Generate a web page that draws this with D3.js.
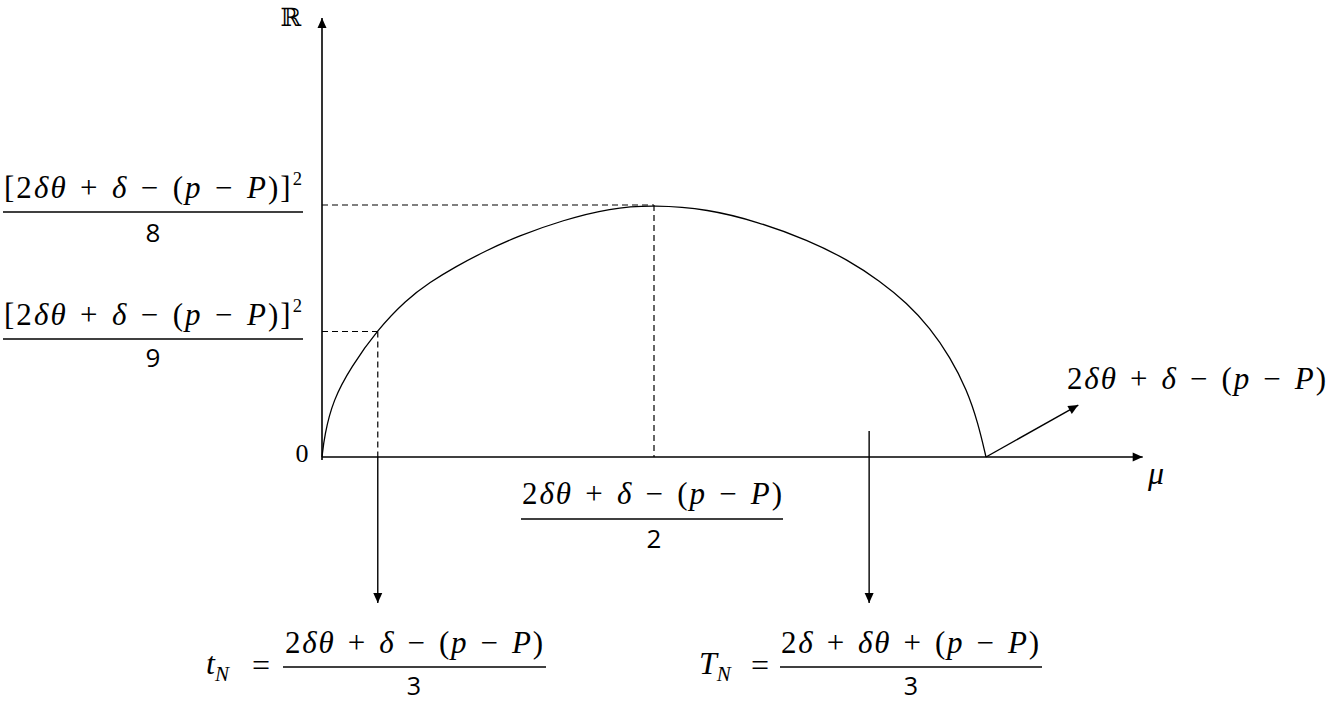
<!DOCTYPE html>
<html>
<head>
<meta charset="utf-8">
<script src="https://cdn.jsdelivr.net/npm/d3@7/dist/d3.min.js"></script>
<style>
html,body{margin:0;padding:0;background:#fff;}
svg{display:block;}
</style>
</head>
<body>
<svg id="chart" width="1328" height="702"></svg>
<script>
// ---- data (schematic units: mu of curve end = 1, peak R = 1) ----
const curveMu = [0, 0.0038, 0.0166, 0.0437, 0.0833, 0.1265, 0.1627, 0.2003, 0.2455, 0.2952, 0.3630, 0.4337, 0.5,
                 0.5813, 0.6566, 0.7319, 0.7922, 0.8404, 0.8810, 0.9157, 0.9458, 0.9714, 0.9880, 1.0];
const curveR  = [0, 0.087, 0.226, 0.357, 0.504, 0.623, 0.694, 0.754, 0.817, 0.877, 0.940, 0.988, 1.0,
                 0.984, 0.933, 0.861, 0.782, 0.698, 0.611, 0.512, 0.397, 0.266, 0.135, 0];
const guideMu = [0.084, 0.5];        // t_N position, peak position
const guideR  = [0.498, 1.0];        // R at t_N, R at peak
const markTN  = 0.824;               // T_N position on mu axis
const axisMaxMu = 1.236;
const axisMaxR  = 1.742;
const numer = "2δθ + δ − (p − P)";
const numerTN = "2δ + δθ + (p − P)";
const yLabelDenoms = ["8", "9"];
const xLabelDenom = "2";
const arrowDenoms = ["3", "3"];

// ---- scales ----
const x = d3.scaleLinear().domain([0, 1]).range([322, 986]);
const y = d3.scaleLinear().domain([0, 1]).range([457, 205]);

const svg = d3.select("#chart");
const defs = svg.append("defs");
defs.append("marker").attr("id", "arr").attr("viewBox", "0 -5 10 10")
  .attr("refX", 10).attr("refY", 0).attr("markerWidth", 11).attr("markerHeight", 10)
  .attr("markerUnits", "userSpaceOnUse").attr("orient", "auto")
  .append("path").attr("d", "M0,-4.5L10,0L0,4.5Z").attr("fill", "#000");

const serif = "'Liberation Serif', 'Times New Roman', serif";
const sans = "'Open Sans', 'Noto Sans', sans-serif";

// ---- axes ----
svg.append("line").attr("x1", x(0)).attr("y1", y(0)).attr("x2", x(axisMaxMu)).attr("y2", y(0))
  .attr("stroke", "#000").attr("stroke-width", 1.6).attr("marker-end", "url(#arr)");
svg.append("line").attr("x1", x(0)).attr("y1", y(0) + 3).attr("x2", x(0)).attr("y2", y(axisMaxR))
  .attr("stroke", "#000").attr("stroke-width", 1.6).attr("marker-end", "url(#arr)");

// ---- dashed guides ----
const dash = "6,4";
guideMu.forEach((m, i) => {
  svg.append("line").attr("x1", x(0)).attr("x2", x(m)).attr("y1", y(guideR[i])).attr("y2", y(guideR[i]))
    .attr("stroke", "#000").attr("stroke-width", 1.2).attr("stroke-dasharray", dash);
  svg.append("line").attr("x1", x(m)).attr("x2", x(m)).attr("y1", y(guideR[i])).attr("y2", y(0))
    .attr("stroke", "#000").attr("stroke-width", 1.2).attr("stroke-dasharray", dash);
});

// ---- curve ----
const pts = curveMu.map((m, i) => [m, curveR[i]]);
svg.append("path").datum(pts)
  .attr("d", d3.line().x(d => x(d[0])).y(d => y(d[1])).curve(d3.curveBasis))
  .attr("fill", "none").attr("stroke", "#000").attr("stroke-width", 1.3);

// ---- pointer arrows ----
const arrowBottom = -0.579;
svg.append("line").attr("x1", x(guideMu[0])).attr("x2", x(guideMu[0])).attr("y1", y(0)).attr("y2", y(arrowBottom))
  .attr("stroke", "#000").attr("stroke-width", 1.4).attr("marker-end", "url(#arr)");
svg.append("line").attr("x1", x(markTN)).attr("x2", x(markTN)).attr("y1", y(0.103)).attr("y2", y(arrowBottom))
  .attr("stroke", "#000").attr("stroke-width", 1.4).attr("marker-end", "url(#arr)");
svg.append("line").attr("x1", x(1)).attr("y1", y(0)).attr("x2", x(1.139)).attr("y2", y(0.206))
  .attr("stroke", "#000").attr("stroke-width", 1.4).attr("marker-end", "url(#arr)");

// ---- math text helper ----
function parts(str) {
  const out = [];
  for (const ch of str.replace(/ /g, "\u2004")) {
    const it = /[A-Za-zδθμ]/.test(ch);
    if (out.length && out[out.length - 1].it === it) out[out.length - 1].t += ch;
    else out.push({t: ch, it});
  }
  return out;
}
function mathText(str, cx, baseline, size, width, opts = {}) {
  const t = svg.append("text").attr("x", cx).attr("y", baseline)
    .attr("text-anchor", opts.anchor || "middle")
    .attr("font-family", serif).attr("font-size", size).attr("fill", "#000");
  parts(str).forEach(p => {
    t.append("tspan").text(p.t).attr("font-style", p.it ? "italic" : "normal");
  });
  if (opts.sup) {
    t.append("tspan").text(opts.sup).attr("font-size", size * 0.6).attr("dy", -size * 0.42);
  }
  if (width) t.attr("textLength", width).attr("lengthAdjust", "spacing");
  return t;
}
function fracLine(x1, x2, yy) {
  svg.append("line").attr("x1", x1).attr("x2", x2).attr("y1", yy).attr("y2", yy)
    .attr("stroke", "#000").attr("stroke-width", 1.6);
}
function denom(s, cx, baseline, size) {
  svg.append("text").attr("x", cx).attr("y", baseline).attr("text-anchor", "middle")
    .attr("font-family", sans).attr("font-size", size).attr("fill", "#000").text(s);
}

const numSize = 31;
// y-axis labels
const yFracs = [{line: 212, num: 198, den: 242}, {line: 339, num: 325, den: 367}];
yFracs.forEach((f, i) => {
  mathText("[" + numer + "]", 4, f.num, numSize, 298, {anchor: "start", sup: "2"});
  fracLine(3, 303, f.line);
  denom(yLabelDenoms[i], 153, f.den, 26);
});

// R symbol
svg.append("text").attr("x", 291).attr("y", 26).attr("text-anchor", "middle")
  .attr("font-family", "'DejaVu Serif', serif").attr("font-size", 25).text("ℝ");
// origin
svg.append("text").attr("x", 302).attr("y", 462).attr("text-anchor", "middle")
  .attr("font-family", serif).attr("font-size", 26).text("0");
// mu
svg.append("text").attr("x", 1156).attr("y", 484).attr("text-anchor", "middle")
  .attr("font-family", serif).attr("font-style", "italic").attr("font-size", 32).text("μ");

// middle fraction (peak)
mathText(numer, 652, 504, numSize, 260);
fracLine(521, 783, 519);
denom(xLabelDenom, 654, 548, 26);

// right-end label
mathText(numer, 1067, 389, numSize, 259, {anchor: "start"});

// t_N
const tl = svg.append("text").attr("x", 206).attr("y", 674).attr("font-family", serif).attr("font-size", 32);
tl.append("tspan").attr("font-style", "italic").text("t");
tl.append("tspan").attr("font-style", "italic").attr("font-size", 21).attr("dy", 7).text("N");
svg.append("text").attr("x", 261).attr("y", 676).attr("text-anchor", "middle")
  .attr("font-family", serif).attr("font-size", 32).text("=");
mathText(numer, 414, 653, numSize, 258);
fracLine(283, 546, 667);
denom(arrowDenoms[0], 414, 695, 25);

// T_N
const Tl = svg.append("text").attr("x", 699).attr("y", 674).attr("font-family", serif).attr("font-size", 32);
Tl.append("tspan").attr("font-style", "italic").text("T");
Tl.append("tspan").attr("font-style", "italic").attr("font-size", 21).attr("dy", 7).text("N");
svg.append("text").attr("x", 760).attr("y", 676).attr("text-anchor", "middle")
  .attr("font-family", serif).attr("font-size", 32).text("=");
mathText(numerTN, 910, 653, numSize, 258);
fracLine(780, 1042, 667);
denom(arrowDenoms[1], 911, 695, 25);
</script>
</body>
</html>
